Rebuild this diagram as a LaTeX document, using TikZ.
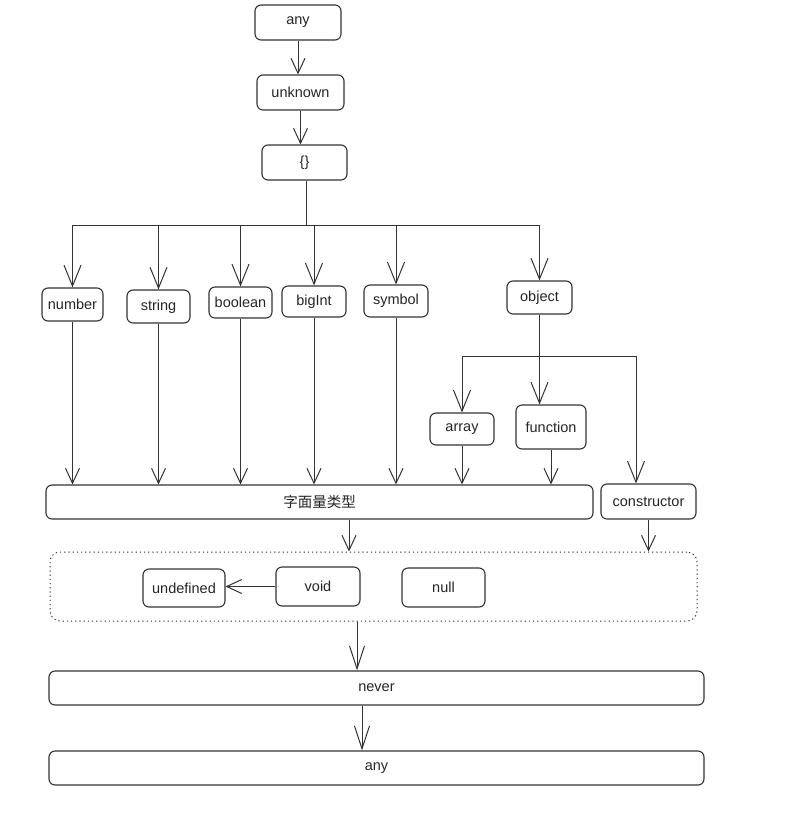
\documentclass[tikz,border=0pt]{standalone}
\usepackage{fontspec}
\setmainfont{Liberation Sans}
\newfontfamily\cjk{Noto Sans CJK SC}
\usetikzlibrary{arrows.meta}
\definecolor{ln}{HTML}{333333}
\begin{document}
\begin{tikzpicture}[x=1pt,y=-1pt,
  box/.style={draw=ln, rounded corners=6pt, line width=1.1pt, inner sep=0pt,
    font=\fontsize{14.5}{16}\selectfont, text=black!85},
  arr/.style={draw=ln, line width=1pt, -{Straight Barb[length=15pt,width=14pt,line width=1pt]}},
  arrbig/.style={draw=ln, line width=1pt, -{Straight Barb[length=21pt,width=17pt,line width=1pt]}},
  arrlong/.style={draw=ln, line width=1pt, -{Straight Barb[length=23pt,width=15pt,line width=1pt]}},
  ln/.style={draw=ln, line width=1pt}]
\useasboundingbox[fill=white] (0,0) rectangle (788,815);
% nodes
\node[box, minimum width=86pt, minimum height=35pt] (any1) at (298,22.5) {any};
\node[box, minimum width=87pt, minimum height=35pt] (unk) at (300.5,92.5) {unknown};
\node[box, minimum width=85pt, minimum height=35pt] (br) at (304.5,162.5) {\{\}};
\node[box, minimum width=61pt, minimum height=33pt] (number) at (72.5,304.5) {number};
\node[box, minimum width=63pt, minimum height=33pt] (string) at (158.5,306.5) {string};
\node[box, minimum width=63pt, minimum height=31pt] (boolean) at (240.5,302.5) {boolean};
\node[box, minimum width=64pt, minimum height=31pt] (bigint) at (314,301.5) {bigInt};
\node[box, minimum width=64pt, minimum height=32pt] (symbol) at (396,301) {symbol};
\node[box, minimum width=65pt, minimum height=33pt] (object) at (539.5,297.5) {object};
\node[box, minimum width=64pt, minimum height=32pt] (array) at (462,429) {array};
\node[box, minimum width=70pt, minimum height=44pt] (function) at (551,427) {function};
\node[box, minimum width=547pt, minimum height=34pt] (lit) at (319.5,502) {\cjk 字面量类型};
\node[box, minimum width=95pt, minimum height=35pt] (ctor) at (648.5,501.5) {constructor};
\node[draw=ln, rounded corners=10pt, line width=1pt, dash pattern=on 1.2pt off 3pt,
  minimum width=647pt, minimum height=69pt, inner sep=0pt] (grp) at (373.5,586.5) {};
\node[box, minimum width=82pt, minimum height=38pt] (undef) at (184,588) {undefined};
\node[box, minimum width=84pt, minimum height=39pt] (void) at (318,586.5) {void};
\node[box, minimum width=83pt, minimum height=39pt] (null) at (443.5,587.5) {null};
\node[box, minimum width=655pt, minimum height=34pt] (never) at (376.5,688) {never};
\node[box, minimum width=655pt, minimum height=34pt] (any2) at (376.5,768) {any};
% helper coordinates
\coordinate (busA) at (306,225);
\coordinate (busB) at (539.5,356);
\coordinate (ctorIn) at (636,356);
\coordinate (c1) at (349,0);
\coordinate (c2) at (357,0);
\coordinate (c3) at (362,0);
% connectors
\draw[arr] (any1.south) -- (any1.south |- unk.north);
\draw[arr] (unk.south) -- (unk.south |- br.north);
\draw[ln] (br.south -| busA) -- (busA);
\draw[ln] (number |- busA) -- (object |- busA);
\foreach \n in {number,string,boolean,bigint,symbol,object}
  \draw[arrbig] (\n |- busA) -- (\n.north);
\draw[ln] (object.south) -- (busB);
\draw[ln] (array |- busB) -- (ctorIn);
\draw[arrbig] (busB) -- (busB |- function.north);
\draw[arrbig] (array |- busB) -- (array.north);
\draw[arrbig] (ctorIn) -- (ctorIn |- ctor.north);
\foreach \n in {number,string,boolean,bigint,symbol,array,function}
  \draw[arr] (\n.south) -- (\n.south |- lit.north);
\draw[arr] (lit.south -| c1) -- (grp.north -| c1);
\draw[arr] (ctor.south) -- (ctor.south |- grp.north);
\draw[arr] (void.west) -- (undef.east |- void.west);
\draw[arrlong] (grp.south -| c2) -- (never.north -| c2);
\draw[arrlong] (never.south -| c3) -- (any2.north -| c3);
\end{tikzpicture}
\end{document}
